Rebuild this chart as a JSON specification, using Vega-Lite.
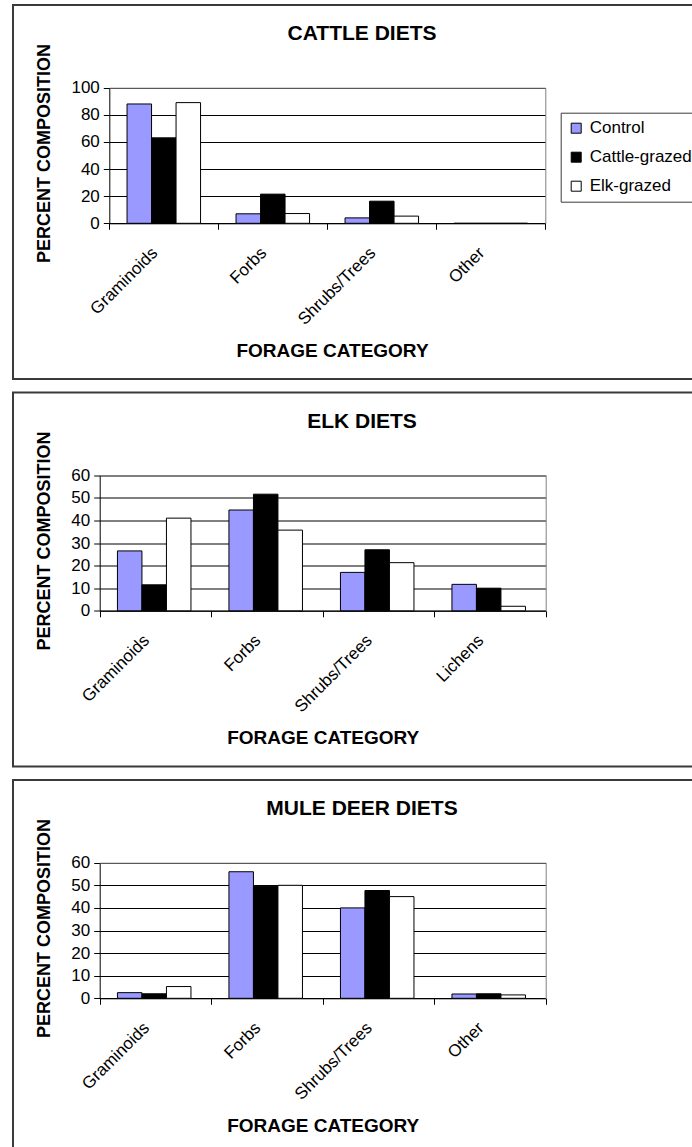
{
  "$schema": "https://vega.github.io/schema/vega-lite/v6.json",
  "padding": {"left": 11, "top": 4, "right": 0, "bottom": 0},
  "spacing": 11.5,
  "config": {
    "font": "Liberation Sans",
    "view": {"stroke": "#3a3a3a", "strokeWidth": 2},
    "axis": {
      "labelFont": "Liberation Sans", "labelFontSize": 17, "labelColor": "black",
      "titleFont": "Liberation Sans", "titleFontSize": 18, "titleFontWeight": "bold", "titleColor": "black",
      "domainColor": "black", "tickColor": "black", "gridColor": "black", "gridOpacity": 1,
      "labelOverlap": false, "labelFlush": false
    },
    "legend": {
      "labelFont": "Liberation Sans", "labelFontSize": 17, "labelColor": "black"
    },
    "title": {"font": "Liberation Sans", "fontSize": 21, "fontWeight": "bold", "color": "black"}
  },
  "vconcat": [
    {
      "width": 698, "height": 374,
      "title": {"text": "CATTLE DIETS", "offset": -39, "frame": "group", "anchor": "middle"},
      "data": {"values": [
        {"cat": "Graminoids", "grp": "Control", "v": 88},
        {"cat": "Graminoids", "grp": "Cattle-grazed", "v": 63},
        {"cat": "Graminoids", "grp": "Elk-grazed", "v": 89},
        {"cat": "Forbs", "grp": "Control", "v": 7},
        {"cat": "Forbs", "grp": "Cattle-grazed", "v": 21.5},
        {"cat": "Forbs", "grp": "Elk-grazed", "v": 7.2},
        {"cat": "Shrubs/Trees", "grp": "Control", "v": 4},
        {"cat": "Shrubs/Trees", "grp": "Cattle-grazed", "v": 16.3},
        {"cat": "Shrubs/Trees", "grp": "Elk-grazed", "v": 5.3},
        {"cat": "Other", "grp": "Control", "v": 0},
        {"cat": "Other", "grp": "Cattle-grazed", "v": 0},
        {"cat": "Other", "grp": "Elk-grazed", "v": 0}
      ]},
      "resolve": {"axis": {"x": "independent", "y": "independent"}},
      "layer": [
        {
          "mark": {"type": "bar", "stroke": "black", "strokeWidth": 1},
          "encoding": {
            "x": {"field": "cat", "type": "nominal", "sort": ["Graminoids", "Forbs", "Shrubs/Trees", "Other"],
              "scale": {"range": [96.3, 532.3], "paddingInner": 0, "paddingOuter": 0},
              "axis": {"orient": "bottom", "offset": -155.7, "tickBand": "extent", "tickSize": 6, "labelAngle": -45,
                "labelPadding": 15, "labelOffset": -15, "title": "FORAGE CATEGORY", "titleFontSize": 19, "titleX": 319, "titleY": 127, "titleBaseline": "middle", "grid": false}},
            "xOffset": {"field": "grp", "type": "nominal", "sort": ["Control", "Cattle-grazed", "Elk-grazed"],
              "scale": {"paddingInner": 0, "paddingOuter": 0.724}},
            "y": {"field": "v", "type": "quantitative",
              "scale": {"domain": [0, 100], "range": [218.3, 82.7], "nice": false, "zero": true},
              "axis": {"orient": "left", "offset": -96.3, "values": [0, 20, 40, 60, 80, 100], "grid": true, "tickSize": 6,
                "labelPadding": 4, "title": "PERCENT COMPOSITION", "titleX": -64.8, "titleY": 148, "titleAngle": 270,
                "titleBaseline": "middle", "titleAlign": "center"}},
            "color": {"field": "grp", "type": "nominal", "sort": ["Control", "Cattle-grazed", "Elk-grazed"],
              "scale": {"domain": ["Control", "Cattle-grazed", "Elk-grazed"], "range": ["#9999ff", "#000000", "#ffffff"]},
              "legend": {"orient": "none", "legendX": 547.7, "legendY": 107.7, "title": null, "strokeColor": "#3a3a3a",
                "padding": 7, "symbolType": "square", "symbolSize": 100, "symbolStrokeColor": "black", "symbolStrokeWidth": 1,
                "rowPadding": 11, "labelOffset": 5}}
          }
        },
        {
          "mark": {"type": "bar", "opacity": 0},
          "encoding": {
            "x": {"field": "cat", "type": "nominal", "sort": ["Graminoids", "Forbs", "Shrubs/Trees", "Other"],
              "axis": {"orient": "top", "offset": -82.7, "domainColor": "#808080", "ticks": false, "labels": false, "title": null, "grid": false, "zindex": 1}},
            "xOffset": {"field": "grp", "type": "nominal", "sort": ["Control", "Cattle-grazed", "Elk-grazed"]},
            "y": {"field": "v", "type": "quantitative",
              "axis": {"orient": "right", "offset": -165.7, "domainColor": "#808080", "ticks": false, "labels": false, "title": null, "grid": false, "zindex": 1}}
          }
        }
      ]
    },
    {
      "width": 698, "height": 374,
      "title": {"text": "ELK DIETS", "offset": -39, "frame": "group", "anchor": "middle"},
      "data": {"values": [
        {"cat": "Graminoids", "grp": "Control", "v": 26.5},
        {"cat": "Graminoids", "grp": "Cattle-grazed", "v": 11.5},
        {"cat": "Graminoids", "grp": "Elk-grazed", "v": 41},
        {"cat": "Forbs", "grp": "Control", "v": 44.6},
        {"cat": "Forbs", "grp": "Cattle-grazed", "v": 51.6},
        {"cat": "Forbs", "grp": "Elk-grazed", "v": 35.7},
        {"cat": "Shrubs/Trees", "grp": "Control", "v": 17},
        {"cat": "Shrubs/Trees", "grp": "Cattle-grazed", "v": 27},
        {"cat": "Shrubs/Trees", "grp": "Elk-grazed", "v": 21.3},
        {"cat": "Lichens", "grp": "Control", "v": 11.7},
        {"cat": "Lichens", "grp": "Cattle-grazed", "v": 10},
        {"cat": "Lichens", "grp": "Elk-grazed", "v": 2}
      ]},
      "resolve": {"axis": {"x": "independent", "y": "independent"}},
      "layer": [
        {
          "mark": {"type": "bar", "stroke": "black", "strokeWidth": 1},
          "encoding": {
            "x": {"field": "cat", "type": "nominal", "sort": ["Graminoids", "Forbs", "Shrubs/Trees", "Lichens"],
              "scale": {"range": [86.7, 532.7], "paddingInner": 0, "paddingOuter": 0},
              "axis": {"orient": "bottom", "offset": -155.7, "tickBand": "extent", "tickSize": 6, "labelAngle": -45,
                "labelPadding": 15, "labelOffset": -15, "title": "FORAGE CATEGORY", "titleFontSize": 19, "titleY": 127, "titleBaseline": "middle", "grid": false}},
            "xOffset": {"field": "grp", "type": "nominal", "sort": ["Control", "Cattle-grazed", "Elk-grazed"],
              "scale": {"paddingInner": 0, "paddingOuter": 0.785}},
            "y": {"field": "v", "type": "quantitative",
              "scale": {"domain": [0, 60], "range": [218.3, 82.7], "nice": false, "zero": true},
              "axis": {"orient": "left", "offset": -86.7, "values": [0, 10, 20, 30, 40, 50, 60], "grid": true, "tickSize": 6,
                "labelPadding": 4, "title": "PERCENT COMPOSITION", "titleX": -55.2, "titleY": 148, "titleAngle": 270,
                "titleBaseline": "middle", "titleAlign": "center"}},
            "color": {"field": "grp", "type": "nominal", "sort": ["Control", "Cattle-grazed", "Elk-grazed"],
              "scale": {"domain": ["Control", "Cattle-grazed", "Elk-grazed"], "range": ["#9999ff", "#000000", "#ffffff"]},
              "legend": {"orient": "none", "legendX": 547.7, "legendY": 107.7, "title": null, "strokeColor": "#3a3a3a",
                "padding": 7, "symbolType": "square", "symbolSize": 100, "symbolStrokeColor": "black", "symbolStrokeWidth": 1,
                "rowPadding": 11, "labelOffset": 5}}
          }
        },
        {
          "mark": {"type": "bar", "opacity": 0},
          "encoding": {
            "x": {"field": "cat", "type": "nominal", "sort": ["Graminoids", "Forbs", "Shrubs/Trees", "Lichens"],
              "axis": {"orient": "top", "offset": -82.7, "domainColor": "#808080", "ticks": false, "labels": false, "title": null, "grid": false, "zindex": 1}},
            "xOffset": {"field": "grp", "type": "nominal", "sort": ["Control", "Cattle-grazed", "Elk-grazed"]},
            "y": {"field": "v", "type": "quantitative",
              "axis": {"orient": "right", "offset": -165.3, "domainColor": "#808080", "ticks": false, "labels": false, "title": null, "grid": false, "zindex": 1}}
          }
        }
      ]
    },
    {
      "width": 698, "height": 374,
      "title": {"text": "MULE DEER DIETS", "offset": -39, "frame": "group", "anchor": "middle"},
      "data": {"values": [
        {"cat": "Graminoids", "grp": "Control", "v": 2.5},
        {"cat": "Graminoids", "grp": "Cattle-grazed", "v": 2},
        {"cat": "Graminoids", "grp": "Elk-grazed", "v": 5.2},
        {"cat": "Forbs", "grp": "Control", "v": 56},
        {"cat": "Forbs", "grp": "Cattle-grazed", "v": 49.5},
        {"cat": "Forbs", "grp": "Elk-grazed", "v": 50},
        {"cat": "Shrubs/Trees", "grp": "Control", "v": 40},
        {"cat": "Shrubs/Trees", "grp": "Cattle-grazed", "v": 47.7},
        {"cat": "Shrubs/Trees", "grp": "Elk-grazed", "v": 45},
        {"cat": "Other", "grp": "Control", "v": 1.9},
        {"cat": "Other", "grp": "Cattle-grazed", "v": 2},
        {"cat": "Other", "grp": "Elk-grazed", "v": 1.5}
      ]},
      "resolve": {"axis": {"x": "independent", "y": "independent"}},
      "layer": [
        {
          "mark": {"type": "bar", "stroke": "black", "strokeWidth": 1},
          "encoding": {
            "x": {"field": "cat", "type": "nominal", "sort": ["Graminoids", "Forbs", "Shrubs/Trees", "Other"],
              "scale": {"range": [86.7, 532.7], "paddingInner": 0, "paddingOuter": 0},
              "axis": {"orient": "bottom", "offset": -155.7, "tickBand": "extent", "tickSize": 6, "labelAngle": -45,
                "labelPadding": 15, "labelOffset": -15, "title": "FORAGE CATEGORY", "titleFontSize": 19, "titleY": 127, "titleBaseline": "middle", "grid": false}},
            "xOffset": {"field": "grp", "type": "nominal", "sort": ["Control", "Cattle-grazed", "Elk-grazed"],
              "scale": {"paddingInner": 0, "paddingOuter": 0.785}},
            "y": {"field": "v", "type": "quantitative",
              "scale": {"domain": [0, 60], "range": [218.3, 82.7], "nice": false, "zero": true},
              "axis": {"orient": "left", "offset": -86.7, "values": [0, 10, 20, 30, 40, 50, 60], "grid": true, "tickSize": 6,
                "labelPadding": 4, "title": "PERCENT COMPOSITION", "titleX": -55.2, "titleY": 148, "titleAngle": 270,
                "titleBaseline": "middle", "titleAlign": "center"}},
            "color": {"field": "grp", "type": "nominal", "sort": ["Control", "Cattle-grazed", "Elk-grazed"],
              "scale": {"domain": ["Control", "Cattle-grazed", "Elk-grazed"], "range": ["#9999ff", "#000000", "#ffffff"]},
              "legend": {"orient": "none", "legendX": 547.7, "legendY": 107.7, "title": null, "strokeColor": "#3a3a3a",
                "padding": 7, "symbolType": "square", "symbolSize": 100, "symbolStrokeColor": "black", "symbolStrokeWidth": 1,
                "rowPadding": 11, "labelOffset": 5}}
          }
        },
        {
          "mark": {"type": "bar", "opacity": 0},
          "encoding": {
            "x": {"field": "cat", "type": "nominal", "sort": ["Graminoids", "Forbs", "Shrubs/Trees", "Other"],
              "axis": {"orient": "top", "offset": -82.7, "domainColor": "#808080", "ticks": false, "labels": false, "title": null, "grid": false, "zindex": 1}},
            "xOffset": {"field": "grp", "type": "nominal", "sort": ["Control", "Cattle-grazed", "Elk-grazed"]},
            "y": {"field": "v", "type": "quantitative",
              "axis": {"orient": "right", "offset": -165.3, "domainColor": "#808080", "ticks": false, "labels": false, "title": null, "grid": false, "zindex": 1}}
          }
        }
      ]
    }
  ]
}
